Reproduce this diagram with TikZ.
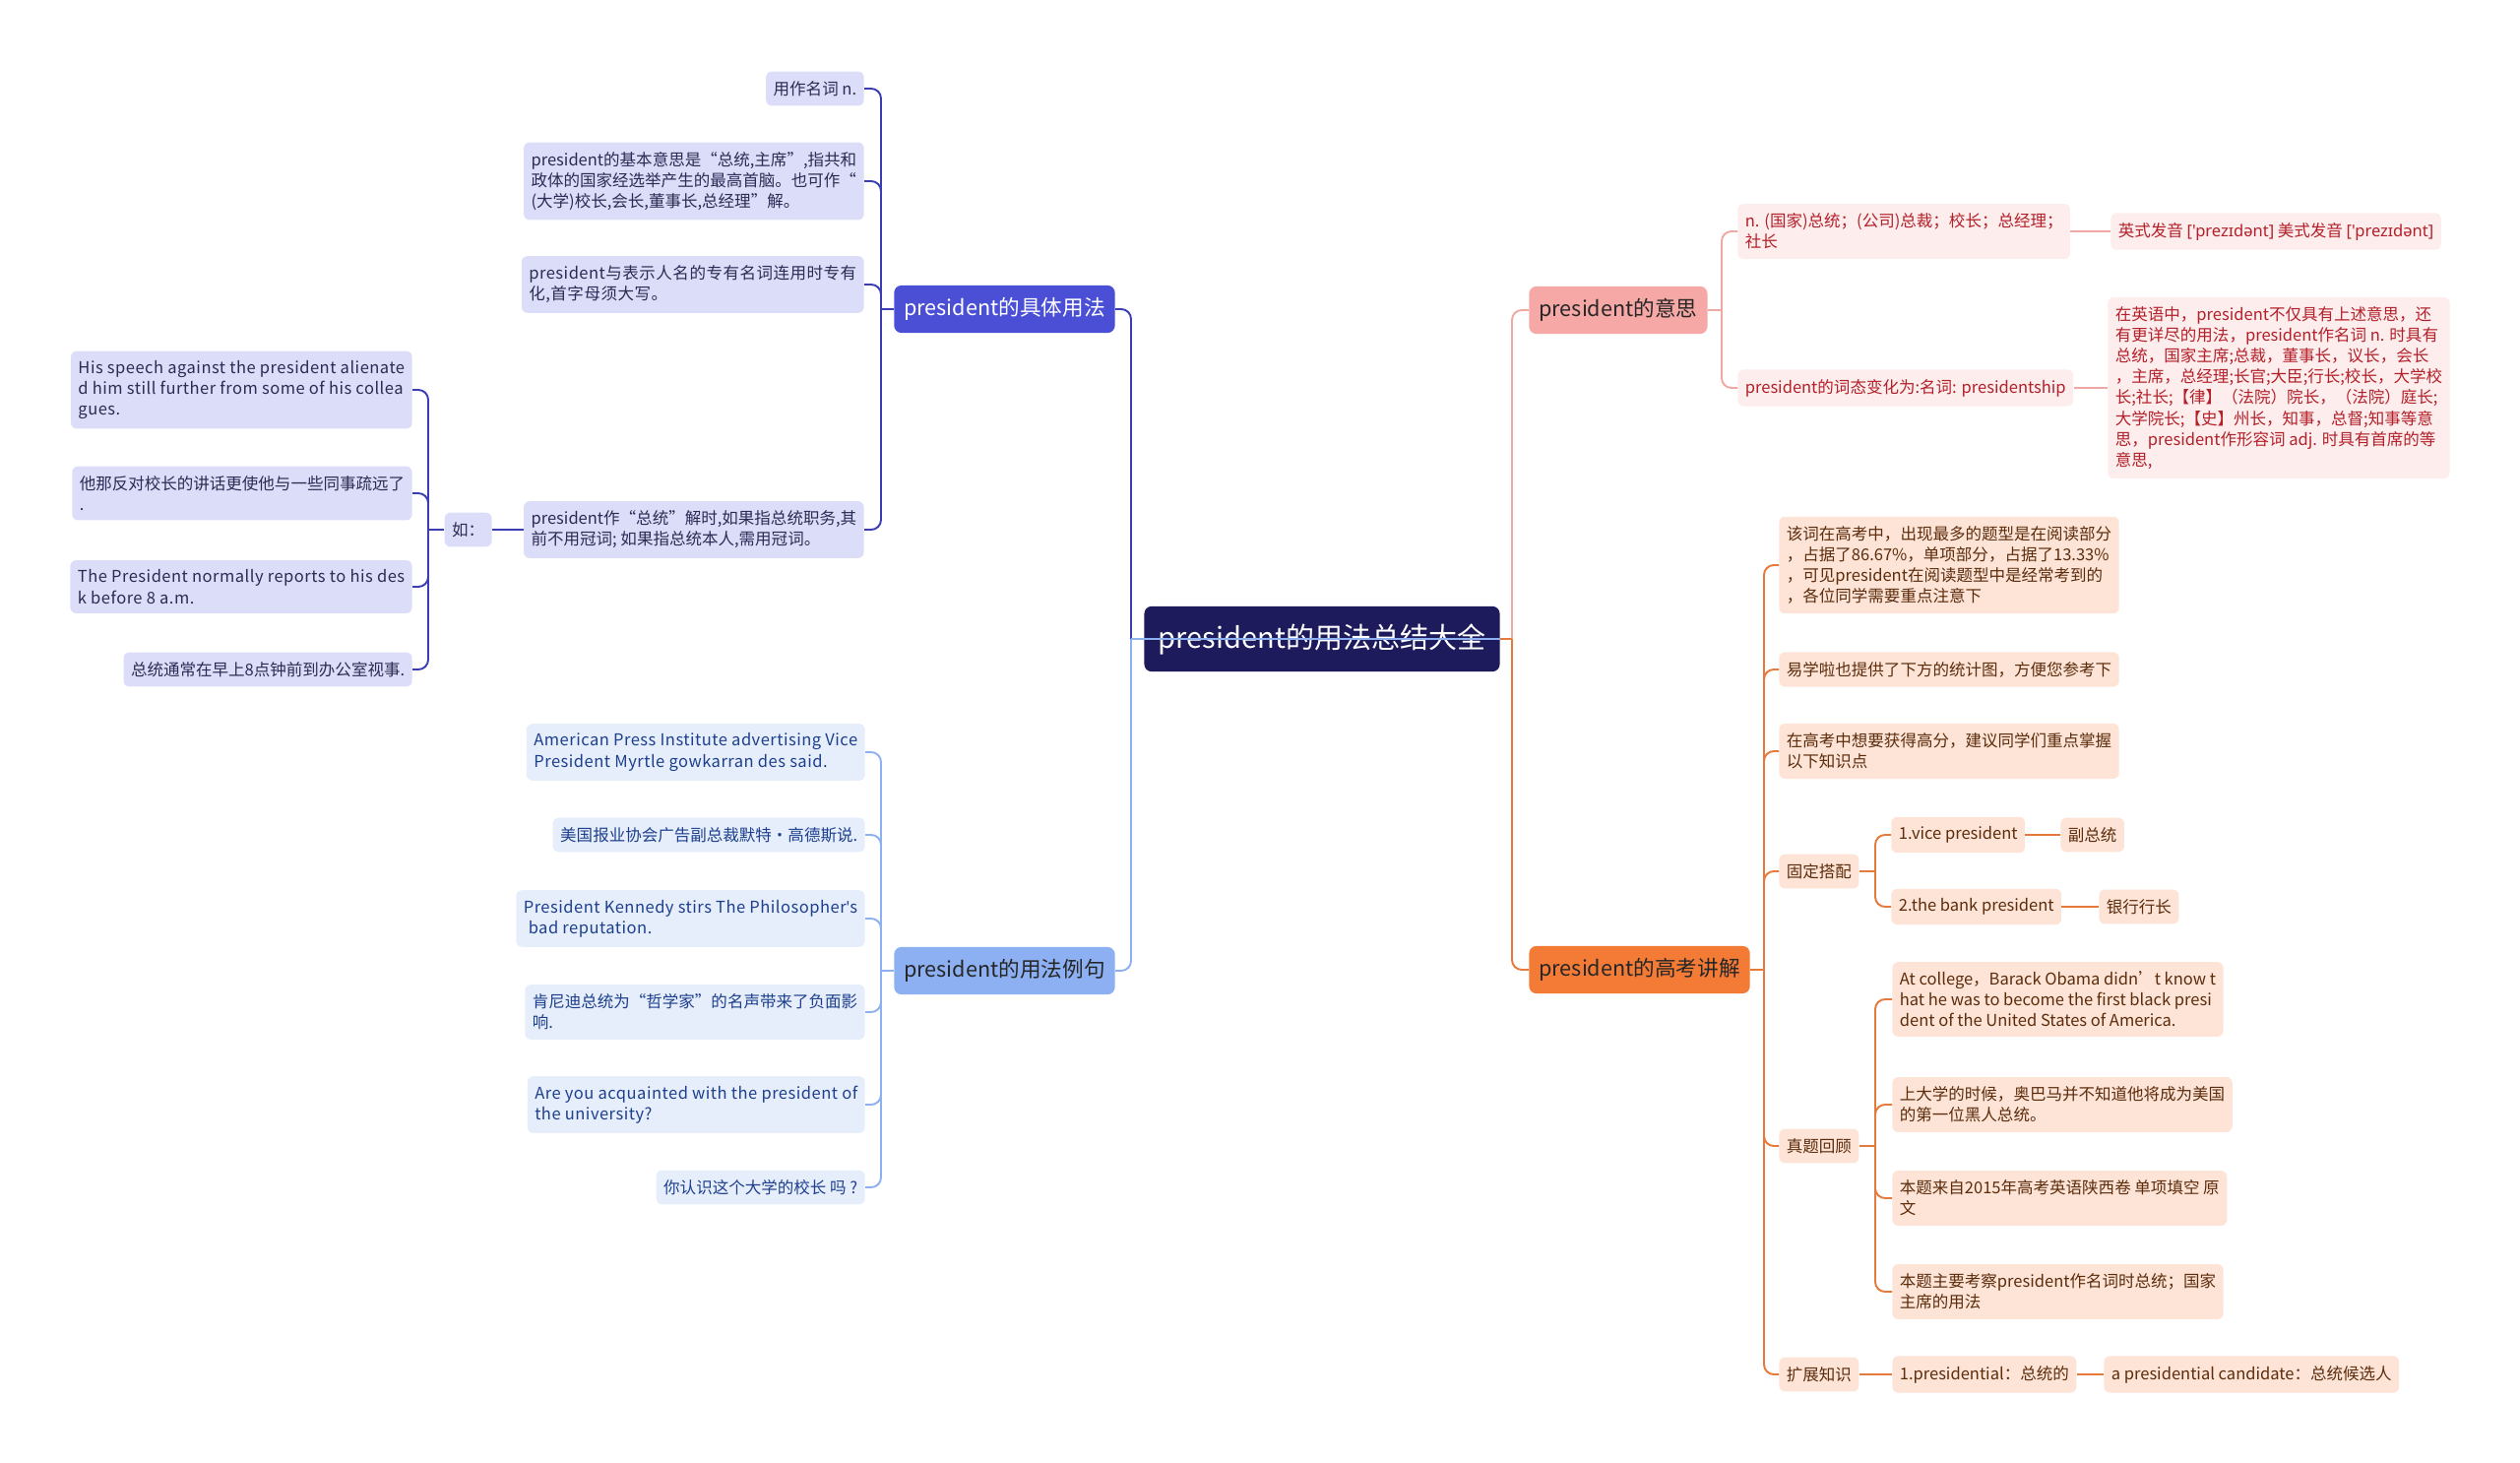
\documentclass[tikz,border=0pt]{standalone}
\usepackage{fontspec}
\setmainfont{Noto Sans CJK SC}
\newfontfamily\ipafont{Noto Sans}
\usepackage{xcolor}

\definecolor{rootfill}{HTML}{1E1B5C}
\definecolor{usefill}{HTML}{4B4FD6}
\definecolor{usecol}{HTML}{3B3EB3}
\definecolor{usechild}{HTML}{DCDDF8}
\definecolor{usetext}{HTML}{2B2B55}
\definecolor{exfill}{HTML}{8DB0F2}
\definecolor{excol}{HTML}{8DB0F0}
\definecolor{exchild}{HTML}{E6EEFC}
\definecolor{extext}{HTML}{1D3F8C}
\definecolor{meanfill}{HTML}{F5A8A5}
\definecolor{meancol}{HTML}{F0A8A4}
\definecolor{meanchild}{HTML}{FDEDEC}
\definecolor{meantext}{HTML}{B3202A}
\definecolor{examfill}{HTML}{F47B36}
\definecolor{examcol}{HTML}{E57A3C}
\definecolor{examchild}{HTML}{FDE4D6}
\definecolor{examtext}{HTML}{5C2C0C}

\tikzset{
  box/.style={rounded corners=1.2mm, inner xsep=1.5mm, inner ysep=1.95mm, align=left,
    font=\fontsize{9.4}{12}\selectfont},
  wide/.style={font=\fontsize{9.4}{12}\selectfont\addfontfeature{LetterSpace=3}},
  usebox/.style={box, fill=usechild, text=usetext},
  exbox/.style={box, fill=exchild, text=extext},
  meanbox/.style={box, fill=meanchild, text=meantext},
  exambox/.style={box, fill=examchild, text=examtext},
  topic/.style={rounded corners=1.5mm, inner xsep=2mm, inner ysep=2.5mm,
    font=\fontsize{12.3}{14}\selectfont},
  link/.style={line width=1.1pt, rounded corners=2mm},
}

\begin{document}
\begin{tikzpicture}[x=0.2mm, y=-0.2mm]
    \useasboundingbox (0,0) rectangle (2560,1486);

    % 中心主题
    \node[fill=rootfill, text=white, rounded corners=1.5mm, inner xsep=2.9mm, inner ysep=3.5mm,
      font=\fontsize{16.5}{18}\selectfont] (root) at (1343,649) {president的用法总结大全};

    % 一级主题
    \node[topic, fill=usefill, text=white, anchor=east] (use) at (1133,314) {president的具体用法};
    \node[topic, fill=exfill, text=black!85, anchor=east] (ex) at (1133,986) {president的用法例句};
    \node[topic, fill=meanfill, text=black!85, anchor=west] (mean) at (1553,315) {president的意思};
    \node[topic, fill=examfill, text=black!85, anchor=west] (exam) at (1553,985) {president的高考讲解};

    % 左上：具体用法
    \node[usebox, anchor=east] (u1) at (878,90) {用作名词 n.};
    \node[usebox, anchor=east] (u2) at (878,184) {president的基本意思是“总统,主席”,指共和\\政体的国家经选举产生的最高首脑。也可作“\\(大学)校长,会长,董事长,总经理”解。};
    \node[usebox, wide, anchor=east] (u3) at (878,289) {president与表示人名的专有名词连用时专有\\化,首字母须大写。};
    \node[usebox, anchor=east] (u4) at (878,538) {president作“总统”解时,如果指总统职务,其\\前不用冠词; 如果指总统本人,需用冠词。};
    \node[usebox, anchor=east] (ru) at (500,538) {如：};
    \node[usebox, wide, anchor=east] (r1) at (419,396) {His speech against the president alienate\\d him still further from some of his collea\\gues.};
    \node[usebox, anchor=east] (r2) at (419,501) {他那反对校长的讲话更使他与一些同事疏远了\\.};
    \node[usebox, wide, anchor=east] (r3) at (419,596) {The President normally reports to his des\\k before 8 a.m.};
    \node[usebox, anchor=east] (r4) at (419,680) {总统通常在早上8点钟前到办公室视事.};

    % 左下：用法例句
    \node[exbox, wide, anchor=east] (e1) at (879,764) {American Press Institute advertising Vice\\President Myrtle gowkarran des said.};
    \node[exbox, anchor=east] (e2) at (879,848) {美国报业协会广告副总裁默特·高德斯说.};
    \node[exbox, wide, anchor=east] (e3) at (879,933) {President Kennedy stirs The Philosopher{\ipafont\char39}s\\\hspace*{0.3em}bad reputation.};
    \node[exbox, anchor=east] (e4) at (879,1028) {肯尼迪总统为“哲学家”的名声带来了负面影\\响.};
    \node[exbox, wide, anchor=east] (e5) at (879,1122) {Are you acquainted with the president of\\the university?};
    \node[exbox, anchor=east] (e6) at (879,1206) {你认识这个大学的校长 吗 ?};

    % 右上：意思
    \node[meanbox, anchor=west] (m1) at (1765,235) {n. (国家)总统；(公司)总裁；校长；总经理；\\社长};
    \node[meanbox, anchor=west] (m1a) at (2144,235) {英式发音 {\ipafont [\char39 prezɪdənt]} 美式发音 {\ipafont [\char39 prezɪdənt]}};
    \node[meanbox, anchor=west] (m2) at (1765,394) {president的词态变化为:名词: presidentship};
    \node[meanbox, anchor=west] (m2a) at (2141,394) {在英语中，president不仅具有上述意思，还\\有更详尽的用法，president作名词 n. 时具有\\总统，国家主席;总裁，董事长，议长，会长\\，主席，总经理;长官;大臣;行长;校长，大学校\\长;社长;【律】（法院）院长，（法院）庭长;\\大学院长;【史】州长，知事，总督;知事等意\\思，president作形容词 adj. 时具有首席的等\\意思,};

    % 右下：高考讲解
    \node[exambox, anchor=west] (k1) at (1807,574) {该词在高考中，出现最多的题型是在阅读部分\\，占据了86.67\%，单项部分，占据了13.33\%\\，可见president在阅读题型中是经常考到的\\，各位同学需要重点注意下};
    \node[exambox, anchor=west] (k2) at (1807,680) {易学啦也提供了下方的统计图，方便您参考下};
    \node[exambox, anchor=west] (k3) at (1807,763) {在高考中想要获得高分，建议同学们重点掌握\\以下知识点};
    \node[exambox, anchor=west] (k4) at (1807,885) {固定搭配};
    \node[exambox, anchor=west] (k4a) at (1921,848) {1.vice president};
    \node[exambox, anchor=west] (k4a1) at (2093,848) {副总统};
    \node[exambox, anchor=west] (k4b) at (1921,921) {2.the bank president};
    \node[exambox, anchor=west] (k4b1) at (2132,921) {银行行长};
    \node[exambox, anchor=west] (k5) at (1807,1164) {真题回顾};
    \node[exambox, anchor=west] (k5a) at (1922,1015) {At college，Barack Obama didn’t know t\\hat he was to become the first black presi\\dent of the United States of America.};
    \node[exambox, anchor=west] (k5b) at (1922,1122) {上大学的时候，奥巴马并不知道他将成为美国\\的第一位黑人总统。};
    \node[exambox, anchor=west] (k5c) at (1922,1217) {本题来自2015年高考英语陕西卷 单项填空 原\\文};
    \node[exambox, anchor=west] (k5d) at (1922,1312) {本题主要考察president作名词时总统；国家\\主席的用法};
    \node[exambox, anchor=west] (k6) at (1807,1396) {扩展知识};
    \node[exambox, anchor=west] (k6a) at (1922,1396) {1.presidential：总统的};
    \node[exambox, anchor=west] (k6b) at (2137,1396) {a presidential candidate：总统候选人};

    % 分支点
    \coordinate (jL) at (1149,649);
    \coordinate (jR) at (1536,649);
    \coordinate (jU) at (895,314);
    \coordinate (jRu) at (435,538);
    \coordinate (jE) at (895,986);
    \coordinate (jM) at (1749,315);
    \coordinate (jK) at (1792,985);
    \coordinate (jK4) at (1905,885);
    \coordinate (jK5) at (1905,1164);

    % 中心连线
    \draw[link, usecol] (jL) |- (use.east);
    \draw[link, excol] (jL) |- (ex.east);
    \draw[line width=1.1pt, excol] (jL) -- (root.east);
    \draw[link, meancol] (jR) |- (mean.west);
    \draw[link, examcol] (jR) |- (exam.west);
    \draw[line width=1.1pt, examcol] (root.east) -- (jR);

    % 具体用法连线
    \draw[link, usecol] (use.west) -- (jU);
    \foreach \c in {u1,u2,u3,u4}
        \draw[link, usecol] (jU) |- (\c.east);
    \draw[link, usecol] (u4.west) -- (ru.east);
    \draw[link, usecol] (ru.west) -- (jRu);
    \foreach \c in {r1,r2,r3,r4}
        \draw[link, usecol] (jRu) |- (\c.east);

    % 用法例句连线
    \draw[link, excol] (ex.west) -- (jE);
    \foreach \c in {e1,e2,e3,e4,e5,e6}
        \draw[link, excol] (jE) |- (\c.east);

    % 意思连线
    \draw[link, meancol] (mean.east) -- (jM);
    \foreach \c in {m1,m2}
        \draw[link, meancol] (jM) |- (\c.west);
    \draw[link, meancol] (m1.east) -- (m1a.west);
    \draw[link, meancol] (m2.east) -- (m2a.west);

    % 高考讲解连线
    \draw[link, examcol] (exam.east) -- (jK);
    \foreach \c in {k1,k2,k3,k4,k5,k6}
        \draw[link, examcol] (jK) |- (\c.west);
    \draw[link, examcol] (k4.east) -- (jK4);
    \foreach \c in {k4a,k4b}
        \draw[link, examcol] (jK4) |- (\c.west);
    \draw[link, examcol] (k4a.east) -- (k4a1.west);
    \draw[link, examcol] (k4b.east) -- (k4b1.west);
    \draw[link, examcol] (k5.east) -- (jK5);
    \foreach \c in {k5a,k5b,k5c,k5d}
        \draw[link, examcol] (jK5) |- (\c.west);
    \draw[link, examcol] (k6.east) -- (k6a.west);
    \draw[link, examcol] (k6a.east) -- (k6b.west);
\end{tikzpicture}
\end{document}
